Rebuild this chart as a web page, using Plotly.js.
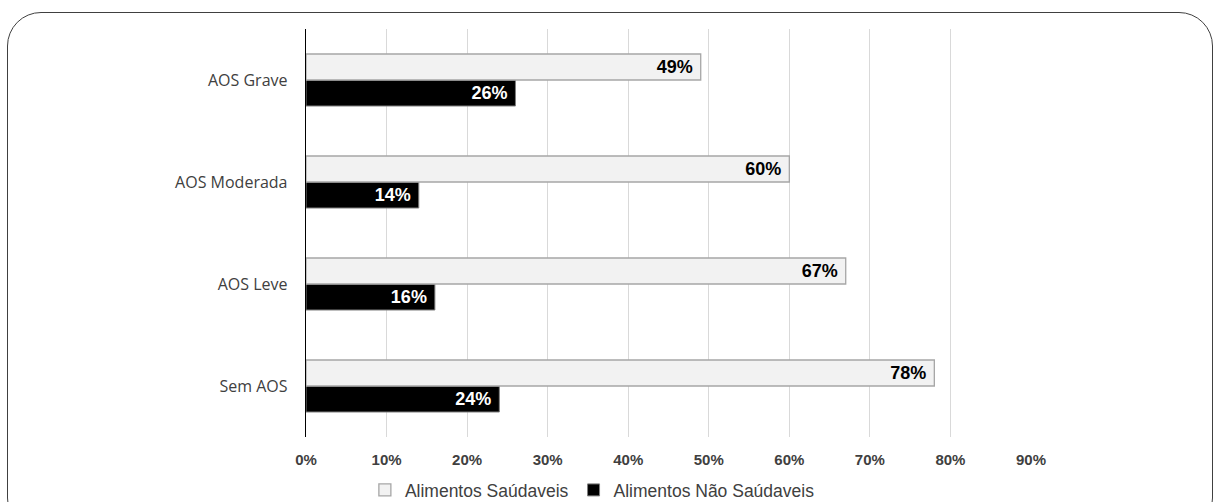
<!DOCTYPE html>
<html>
<head>
<meta charset="utf-8">
<script src="https://cdn.plot.ly/plotly-3.0.1.min.js"></script>
<style>
  html, body { margin: 0; padding: 0; background: #fff; }
  #wrap { position: relative; width: 1216px; height: 502px; overflow: hidden; }
  #frame { position: absolute; left: 7px; top: 12px; width: 1206px; height: 520px;
           border: 1.5px solid #404040; border-radius: 34px; box-sizing: border-box; pointer-events: none; }
  #chart { position: absolute; left: 0; top: 0; width: 1216px; height: 502px; }
</style>
</head>
<body>
<div id="wrap">
  <div id="chart"></div>
  <div id="frame"></div>
</div>
<script>
const categories = ["Sem AOS", "AOS Leve", "AOS Moderada", "AOS Grave"];
const saudaveis = [0.78, 0.67, 0.60, 0.49];
const naoSaudaveis = [0.24, 0.16, 0.14, 0.26];
const seriesNames = ["Alimentos Saúdaveis", "Alimentos Não Saúdaveis"];
const tickVals = [0, 0.1, 0.2, 0.3, 0.4, 0.5, 0.6, 0.7, 0.8, 0.9];
const tickText = ["0%", "10%", "20%", "30%", "40%", "50%", "60%", "70%", "80%", "90%"];

const pct = v => Math.round(v * 100) + "%\u00a0";

const labelFont = { family: "Liberation Sans, Arial, sans-serif", size: 18, weight: "bold" };

const traces = [
  {
    type: "bar", orientation: "h", name: seriesNames[1],
    y: categories, x: naoSaudaveis,
    text: naoSaudaveis.map(pct),
    textposition: "inside", insidetextanchor: "end", constraintext: "none",
    textfont: Object.assign({ color: "#ffffff" }, labelFont),
    marker: { color: "#000000", line: { color: "#7f7f7f", width: 1 } },
    legendrank: 2, hoverinfo: "skip"
  },
  {
    type: "bar", orientation: "h", name: seriesNames[0],
    y: categories, x: saudaveis,
    text: saudaveis.map(pct),
    textposition: "inside", insidetextanchor: "end", constraintext: "none",
    textfont: Object.assign({ color: "#000000" }, labelFont),
    marker: { color: "#f2f2f2", line: { color: "#a6a6a6", width: 1.3 } },
    legendrank: 1, hoverinfo: "skip"
  }
];

const layout = {
  width: 1216, height: 502,
  margin: { l: 306, r: 185, t: 29, b: 65, pad: 0, autoexpand: false },
  paper_bgcolor: "rgba(0,0,0,0)", plot_bgcolor: "rgba(0,0,0,0)",
  barmode: "group", bargap: 0.49, bargroupgap: 0,
  showlegend: true,
  legend: {
    orientation: "h", x: 0.395, xanchor: "center", y: -0.13, yanchor: "middle",
    font: { family: "Liberation Sans, Arial, sans-serif", size: 17.5, color: "#404040" },
    itemwidth: 30, traceorder: "normal"
  },
  xaxis: {
    range: [0, 0.9], tickvals: tickVals, ticktext: tickText,
    showgrid: true, gridcolor: "#d9d9d9", gridwidth: 1,
    zeroline: false, showline: false, ticks: "",
    ticklabelstandoff: 12,
    tickfont: { family: "Liberation Sans, Arial, sans-serif", size: 15, color: "#404040", weight: "bold" },
    fixedrange: true
  },
  yaxis: {
    type: "category", categoryorder: "array", categoryarray: categories,
    showline: true, linecolor: "#000000", linewidth: 1.3,
    showgrid: false, zeroline: false, ticks: "", ticklabelstandoff: 14,
    tickfont: { family: "Open Sans, Noto Sans, sans-serif", size: 16, color: "#404040" },
    fixedrange: true
  }
};

Plotly.newPlot("chart", traces, layout, { staticPlot: true, displayModeBar: false });
</script>
</body>
</html>
